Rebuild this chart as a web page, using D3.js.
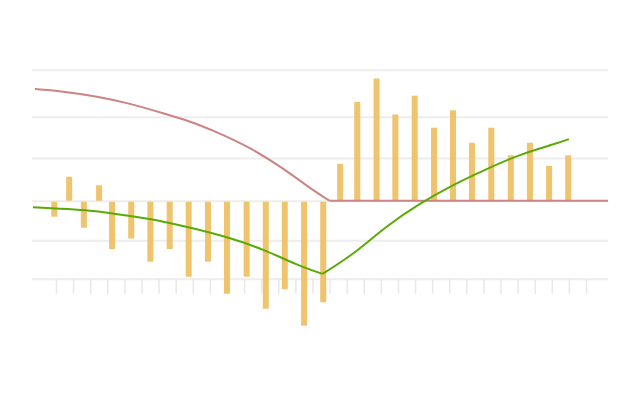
<!DOCTYPE html>
<html>
<head>
<meta charset="utf-8">
<script src="https://cdn.jsdelivr.net/npm/d3@7"></script>
<style>
  html, body { margin: 0; padding: 0; background: #fff; }
  svg { display: block; }
</style>
</head>
<body>
<svg id="chart"></svg>
<script>
// tick positions on the x axis (units), gridline values on the y axis
var xTicks = d3.range(0, 32);
var gridValues = [32.75, 21, 10.7, 0, -9.9, -19.5];

// bars: position on x and value
var barX = [-0.1, 0.77, 1.63, 2.52, 3.28, 4.4, 5.52, 6.65, 7.76, 8.89, 10.0, 11.15, 12.27, 13.38, 14.51,
  15.63, 16.62, 17.62, 18.75, 19.85, 20.98, 22.11, 23.22, 24.33, 25.46, 26.6, 27.72, 28.84, 29.96];
var barValues = [-4.0, 6.0, -6.75, 3.85, -12.1, -9.45, -15.25, -12.1, -19.0, -15.25, -23.25, -19.0, -27.0, -22.15, -31.25,
  -25.4, 9.2, 24.7, 30.55, 21.55, 26.25, 18.25, 22.6, 14.5, 18.25, 11.35, 14.5, 8.7, 11.35];

// red line: falling curve, then flat at zero
var redCurveX = [-1.23, 0.41, 2.4, 4.33, 6.26, 7.84, 9.18, 11.17, 13.1, 15.03, 15.99];
var redCurveY = [27.9, 27.25, 26.0, 24.2, 21.85, 19.75, 17.5, 13.5, 8.5, 2.7, 0];
var redFlatX = [15.99, 32.29];
var redFlatY = [0, 0];

// green line: falling to a low point, then rising
var greenDownX = [-1.35, 1.99, 4.33, 6.28, 8.23, 10.18, 12.12, 14.08, 15.59];
var greenDownY = [-1.65, -2.5, -3.83, -5.25, -7.15, -9.4, -12.3, -15.9, -18.3];
var greenUpX = [15.59, 17.39, 19.34, 21.29, 23.24, 25.19, 27.14, 29.09, 30.0];
var greenUpY = [-18.3, -13.15, -6.5, -0.8, 3.9, 7.9, 11.4, 14.1, 15.4];

var w = 640, h = 396;
var margin = { left: 32, right: 32 },
  width = w - margin.left - margin.right;

var x = d3.scaleLinear().domain([0, 31]).range([24, 554]);
var y = d3.scaleLinear().domain([0, 10]).range([200.7, 160.7]);

var svg = d3.select("#chart")
  .attr("width", w)
  .attr("height", h)
  .append("g").attr("transform", "translate(" + margin.left + ",0)");

// gridlines
var grid = svg.append("g")
  .call(d3.axisLeft(y).tickValues(gridValues).tickSize(-width).tickFormat(""));
grid.select(".domain").remove();
grid.selectAll(".tick line").attr("stroke", "#ededed").attr("stroke-width", 2);

// ticks under the bottom gridline
var axis = svg.append("g")
  .attr("transform", "translate(0," + y(-19.5) + ")")
  .call(d3.axisBottom(x).tickValues(xTicks).tickSize(15).tickFormat(""));
axis.select(".domain").remove();
axis.selectAll(".tick line").attr("stroke", "#e8e8e8").attr("stroke-width", 1.5);

// bars
var bars = barX.map(function (d, i) { return { x: d, v: barValues[i] }; });
var barW = 6;
svg.selectAll(".bar").data(bars).enter().append("rect")
  .attr("class", "bar")
  .attr("x", function (d) { return x(d.x) - barW / 2; })
  .attr("y", function (d) { return d.v > 0 ? y(d.v) : y(0) + 1; })
  .attr("width", barW)
  .attr("height", function (d) { return Math.abs(y(d.v) - y(0)) - (d.v > 0 ? 0 : 1); })
  .attr("fill", "#f0c36d");

function pts(xs, ys) { return xs.map(function (d, i) { return [d, ys[i]]; }); }

var line = d3.line()
  .x(function (d) { return x(d[0]); })
  .y(function (d) { return y(d[1]); })
  .curve(d3.curveNatural);

// red line
[pts(redCurveX, redCurveY), pts(redFlatX, redFlatY)].forEach(function (seg) {
  svg.append("path")
    .attr("d", line(seg))
    .attr("fill", "none")
    .attr("stroke", "#cc8383")
    .attr("stroke-width", 2);
});

// green line
[pts(greenDownX, greenDownY), pts(greenUpX, greenUpY)].forEach(function (seg) {
  svg.append("path")
    .attr("d", line(seg))
    .attr("fill", "none")
    .attr("stroke", "#5aaa05")
    .attr("stroke-width", 2)
    .attr("stroke-linejoin", "round");
});
</script>
</body>
</html>
